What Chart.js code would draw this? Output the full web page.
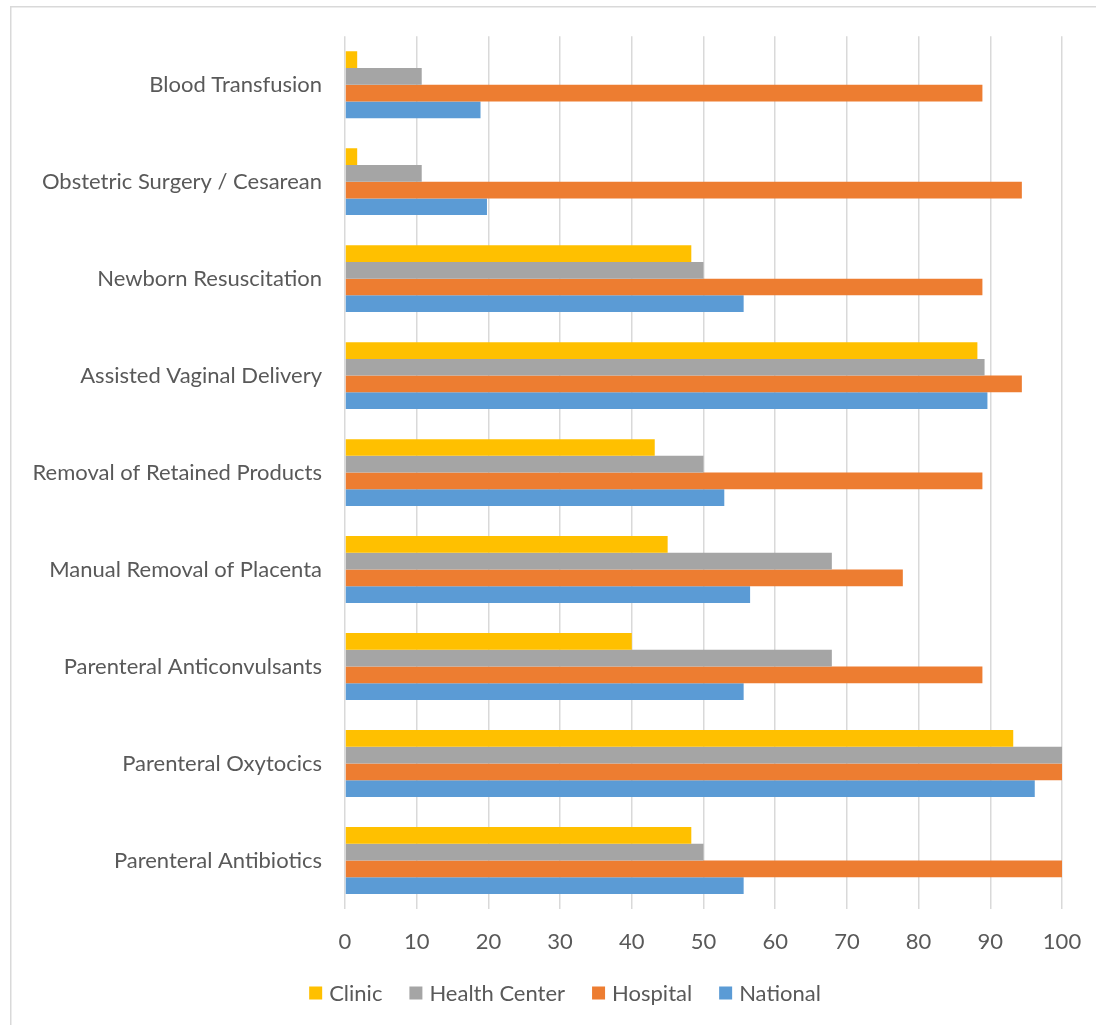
<!DOCTYPE html>
<html>
<head>
<meta charset="utf-8">
<script src="https://cdn.jsdelivr.net/npm/chart.js@4.4.1/dist/chart.umd.min.js"></script>
<style>
  html, body { margin: 0; padding: 0; background: #ffffff; }
  #wrap { position: relative; width: 1096px; height: 1025px; overflow: hidden; }
  canvas { display: block; }
</style>
</head>
<body>
<div id="wrap"><canvas id="c" width="1096" height="1025"></canvas></div>
<script>
// Emergency obstetric care functions, % of facilities by type
const categories = [
  'Blood Transfusion',
  'Obstetric Surgery / Cesarean',
  'Newborn Resuscitation',
  'Assisted Vaginal Delivery',
  'Removal of Retained Products',
  'Manual Removal of Placenta',
  'Parenteral Anticonvulsants',
  'Parenteral Oxytocics',
  'Parenteral Antibiotics'
];
const clinic       = [1.7, 1.7, 48.3, 88.2, 43.2, 45.0, 40.0, 93.2, 48.3];
const healthCenter = [10.7, 10.7, 50.0, 89.2, 50.0, 67.9, 67.9, 100, 50.0];
const hospital     = [88.9, 94.4, 88.9, 94.4, 88.9, 77.8, 88.9, 100, 100];
const national     = [18.9, 19.8, 55.6, 89.6, 52.9, 56.5, 55.6, 96.2, 55.6];
const xTicks = [0, 10, 20, 30, 40, 50, 60, 70, 80, 90, 100];

const FONT = 'Lato, "Open Sans", sans-serif';
const TEXT = '#595959';
const GRID = '#d9d9d9';

// light frame around the whole chart
const framePlugin = {
  id: 'frame',
  beforeDraw(chart) {
    const ctx = chart.ctx;
    ctx.save();
    ctx.fillStyle = '#ffffff';
    ctx.fillRect(0, 0, chart.width, chart.height);
    ctx.strokeStyle = GRID;
    ctx.lineWidth = 1.5;
    ctx.strokeRect(10.75, 6.75, 2000, 2000);
    ctx.restore();
  }
};

// compact legend row under the axis: square swatch, short gap, series name
const legendRow = {
  id: 'legendRow',
  afterDraw(chart, args, opts) {
    const ctx = chart.ctx;
    const box = 13, gap = 7, spacing = 27;
    ctx.save();
    ctx.font = '22px ' + FONT;
    ctx.textBaseline = 'middle';
    ctx.textAlign = 'left';
    const items = chart.data.datasets.map(ds => ({
      label: ds.label, color: ds.backgroundColor, w: ctx.measureText(ds.label).width
    }));
    const total = items.reduce((s, it) => s + box + gap + it.w, 0) + spacing * (items.length - 1);
    let x = opts.centerX - total / 2;
    const y = opts.centerY;
    items.forEach(it => {
      ctx.fillStyle = it.color;
      ctx.fillRect(x, y - box / 2, box, box);
      ctx.fillStyle = TEXT;
      ctx.fillText(it.label, x + box + gap, y + 1);
      x += box + gap + it.w + spacing;
    });
    ctx.restore();
  }
};

new Chart(document.getElementById('c'), {
  type: 'bar',
  data: {
    labels: categories,
    datasets: [
      { label: 'Clinic', data: clinic, backgroundColor: '#FFC000' },
      { label: 'Health Center', data: healthCenter, backgroundColor: '#A5A5A5' },
      { label: 'Hospital', data: hospital, backgroundColor: '#ED7D31' },
      { label: 'National', data: national, backgroundColor: '#5B9BD5' }
    ]
  },
  options: {
    indexAxis: 'y',
    responsive: false,
    animation: false,
    devicePixelRatio: 1,
    datasets: {
      bar: { categoryPercentage: 0.69, barPercentage: 1.0, borderWidth: 0 }
    },
    layout: { padding: { top: 36, right: 34, left: 0, bottom: 67 } },
    scales: {
      x: {
        min: 0,
        max: 100,
        afterBuildTicks(scale) { scale.ticks = xTicks.map(v => ({ value: v })); },
        grid: { color: GRID, lineWidth: 1.5, drawTicks: false },
        border: { display: false },
        ticks: { color: TEXT, font: { family: FONT, size: 22 }, padding: 20, maxRotation: 0 },
        afterFit(scale) {
          scale.height = 49;
          scale.paddingLeft = 0;
          scale.paddingRight = 0;
        }
      },
      y: {
        grid: { display: false, drawTicks: false },
        border: { display: false },
        ticks: { color: TEXT, font: { family: FONT, size: 22 }, padding: 23, autoSkip: false },
        afterFit(scale) { scale.width = 345; }
      }
    },
    plugins: {
      legend: { display: false },
      legendRow: { centerX: 565, centerY: 993 },
      tooltip: { enabled: false }
    }
  },
  plugins: [framePlugin, legendRow]
});
</script>
</body>
</html>
